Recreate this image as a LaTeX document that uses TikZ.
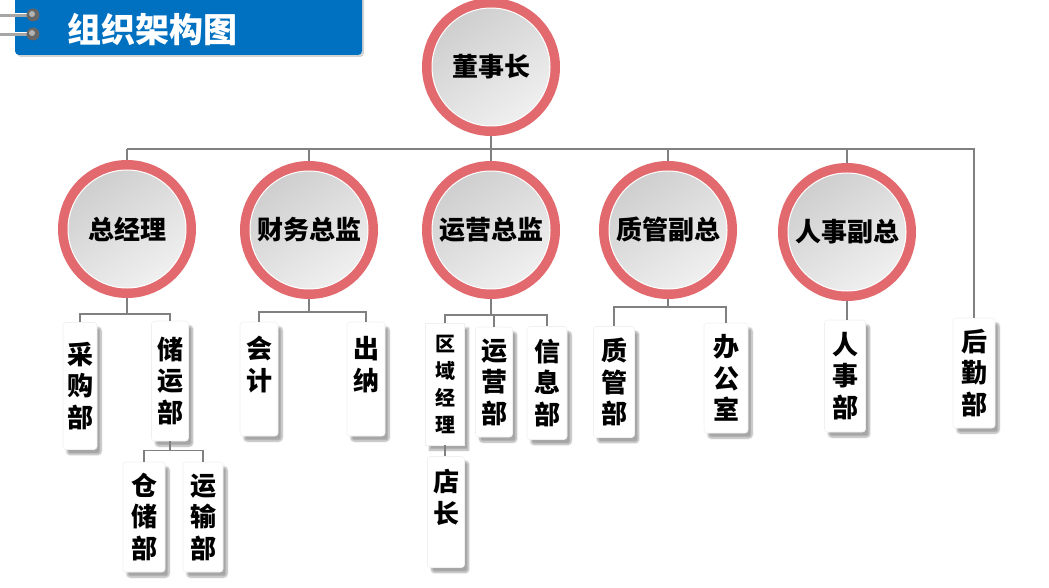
\documentclass[tikz,border=0pt]{standalone}
\usepackage{fontspec}
\newfontfamily\cjk{Noto Sans CJK SC}
\usepackage{tikz}
\usetikzlibrary{shadows, shadows.blur}
\definecolor{bannerblue}{RGB}{0, 112, 192}
\definecolor{ringred}{RGB}{226, 106, 110}
\definecolor{linkgray}{RGB}{128, 128, 128}

\tikzset{
  lead/.style={circle, minimum size=118, inner sep=0pt, outer sep=10pt,
    preaction={draw=ringred, line width=20pt},
    draw=white, line width=1pt, top color=black!19, bottom color=black!6, shading angle=35,
    font=\cjk\bfseries\fontsize{26}{30}\selectfont},
  dept/.style={rectangle, rounded corners=3pt, fill=white, draw=black!6, line width=0.6pt,
    inner sep=0pt, align=center,
    blur shadow={shadow xshift=4pt, shadow yshift=-5pt, shadow opacity=35, shadow blur steps=8},
    font=\cjk\bfseries\fontsize{26}{31.5}\selectfont},
  link/.style={draw=linkgray, line width=1.6pt}
}

\begin{document}
\begin{tikzpicture}[x=1pt, y=-1pt]
    \useasboundingbox (0,0) rectangle (1049,588);

    % 标题栏
    \fill[bannerblue, rounded corners=4pt, drop shadow={shadow xshift=2pt, shadow yshift=-2pt, opacity=0.35}] (15,-6) rectangle (362,55);
    \foreach \y in {15,34} {
        \draw[black!35, line width=4pt] (0,\y) -- (33,\y);
        \draw[white, line width=1pt] (0,\y-1) -- (31,\y-1);
        \fill[black!60] (33,\y) circle (6.5pt);
        \fill[black!30] (32,\y-1) circle (3pt);
    }
    \node[font=\cjk\bfseries\fontsize{34}{34}\selectfont, text=white] (title) at (152,30) {组织架构图};

    % 领导层
    \node[lead] (ceo) at (491,67) {董事长};
    \node[lead] (gm) at (127,229) {总经理};
    \node[lead] (cfo) at (309,230) {财务总监};
    \node[lead] (coo) at (491,230) {运营总监};
    \node[lead] (qa) at (668,230) {质管副总};
    \node[lead] (hr) at (847,232) {人事副总};

    % 部门
    \node[dept, minimum width=34, minimum height=127] (buy) at (80,386) {采\\购\\部};
    \node[dept, minimum width=37, minimum height=120] (store) at (170,381) {储\\运\\部};
    \node[dept, minimum width=42, minimum height=110] (wh) at (144,517) {仓\\储\\部};
    \node[dept, minimum width=40, minimum height=110] (trans) at (203,517) {运\\输\\部};
    \node[dept, minimum width=38, minimum height=114] (acct) at (259,379) {会\\计\\\mbox{}};
    \node[dept, minimum width=38, minimum height=114] (cash) at (366,379) {出\\纳\\\mbox{}};
    \node[dept, rounded corners=0pt, minimum width=39, minimum height=122,
          font=\cjk\bfseries\fontsize{20}{27}\selectfont] (area) at (445,384) {区\\域\\经\\理};
    \node[dept, minimum width=37, minimum height=110] (ops) at (494,382) {运\\营\\部};
    \node[dept, minimum width=40, minimum height=113] (info) at (547,383) {信\\息\\部};
    \node[dept, minimum width=37, minimum height=111] (shop) at (446,512) {店\\长\\\mbox{}};
    \node[dept, minimum width=41, minimum height=111] (qadept) at (614,382) {质\\管\\部};
    \node[dept, minimum width=44, minimum height=110] (office) at (726,378) {办\\公\\室};
    \node[dept, minimum width=41, minimum height=112] (hrdept) at (845,376) {人\\事\\部};
    \node[dept, minimum width=42, minimum height=110] (rear) at (974,373) {后\\勤\\部};

    % 连线
    \coordinate (bus) at (491,149);
    \draw[link] (ceo.south) -- (bus);
    \draw[link] (bus -| gm.north) -- (bus -| rear.north) -- (rear.north);
    \foreach \n in {gm,cfo,coo,qa,hr}
        \draw[link] (bus -| \n.north) -- (\n.north);

    \draw[link] (gm.south) -- ++(0,16) coordinate (gmj);
    \draw[link] (buy.north) |- (gmj) -| (store.north);
    \draw[link] (store.south) -- ++(0,9) coordinate (storej);
    \draw[link] (wh.north) |- (storej) -| (trans.north);

    \draw[link] (cfo.south) -- ++(0,13) coordinate (cfoj);
    \draw[link] (acct.north) |- (cfoj) -| (cash.north);

    \draw[link] (coo.south) -- ++(0,16) coordinate (cooj);
    \draw[link] (area.north) |- (cooj) -| (info.north);
    \draw[link] (cooj -| ops.north) -- (ops.north);
    \draw[link] (area.south) -- (area.south |- shop.north);

    \draw[link] (qa.south) -- ++(0,8) coordinate (qaj);
    \draw[link] (qadept.north) |- (qaj) -| (office.north);

    \draw[link] (hr.south) -- (hr.south |- hrdept.north);
\end{tikzpicture}
\end{document}
